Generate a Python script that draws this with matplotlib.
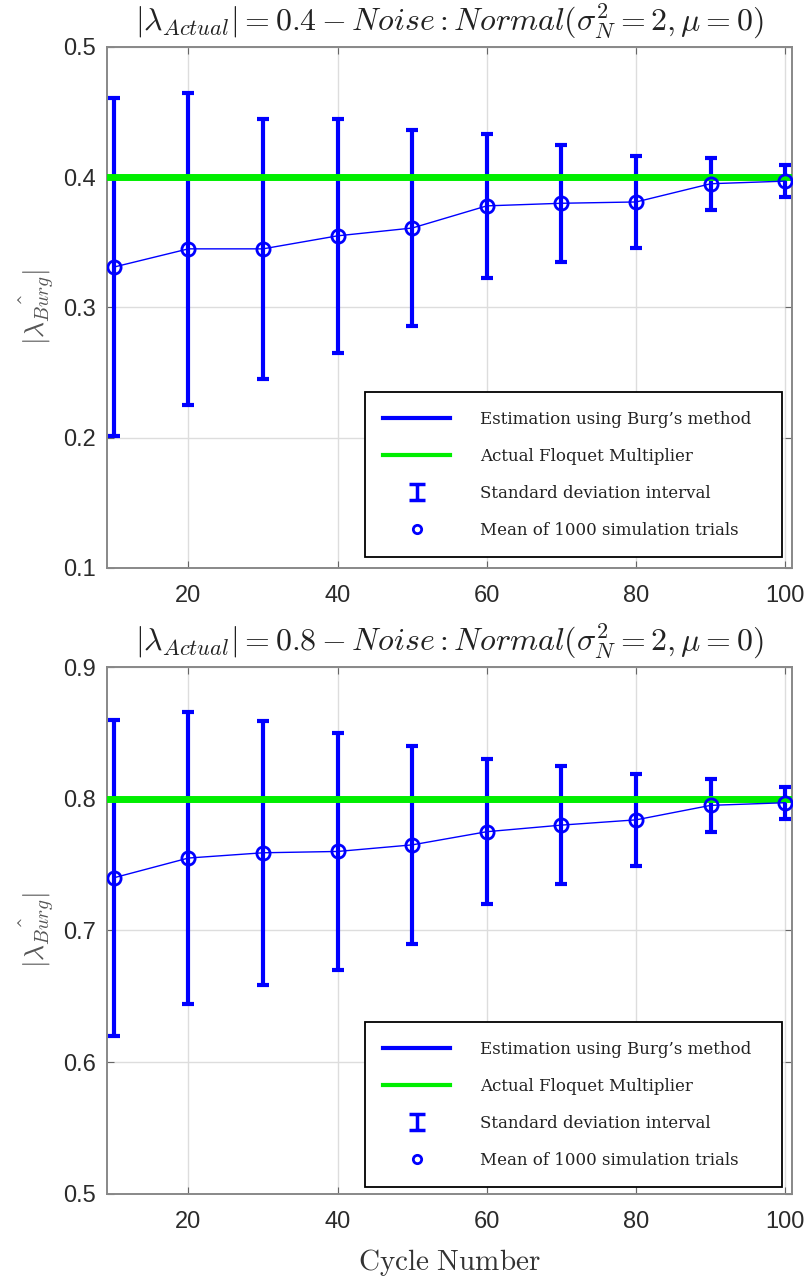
import numpy as np
import matplotlib
matplotlib.use('Agg')
import matplotlib.pyplot as plt
from matplotlib.lines import Line2D
from matplotlib.path import Path

plt.rcParams['mathtext.fontset'] = 'cm'
plt.rcParams['font.family'] = ['Liberation Sans', 'DejaVu Sans']

# cycle numbers and Burg estimates (mean of 1000 trials, standard deviation)
cycles = [10, 20, 30, 40, 50, 60, 70, 80, 90, 100]
mean_04 = [0.331, 0.345, 0.345, 0.355, 0.361, 0.378, 0.380, 0.381, 0.395, 0.397]
std_04 = [0.130, 0.120, 0.100, 0.090, 0.075, 0.055, 0.045, 0.035, 0.020, 0.012]
mean_08 = [0.740, 0.755, 0.759, 0.760, 0.765, 0.775, 0.780, 0.784, 0.795, 0.797]
std_08 = [0.120, 0.111, 0.100, 0.090, 0.075, 0.055, 0.045, 0.035, 0.020, 0.012]
actual = [0.4, 0.8]
yticks_top = [0.1, 0.2, 0.3, 0.4, 0.5]
yticks_bot = [0.5, 0.6, 0.7, 0.8, 0.9]
xticks = [20, 40, 60, 80, 100]

BLUE = '#0000ff'
GREEN = '#00ee00'
GRAY = '#2b2b2b'

fig = plt.figure(figsize=(8.1, 12.83), dpi=100)
ax1 = fig.add_axes([0.1317, 0.5573, 0.8461, 0.4061])
ax2 = fig.add_axes([0.1317, 0.0694, 0.8461, 0.4107])

# errorbar legend icon: vertical bar with two caps
ebar_marker = Path([(-1, 1), (1, 1), (0, 1), (0, -1), (-1, -1), (1, -1)],
                   [Path.MOVETO, Path.LINETO, Path.MOVETO, Path.LINETO,
                    Path.MOVETO, Path.LINETO])

legend_handles = [
    Line2D([], [], color=BLUE, lw=3),
    Line2D([], [], color=GREEN, lw=3),
    Line2D([], [], ls='none', marker=ebar_marker, markersize=11,
           markeredgecolor=BLUE, markeredgewidth=2.5),
    Line2D([], [], ls='none', marker='o', markersize=6, markerfacecolor='none',
           markeredgecolor=BLUE, markeredgewidth=2),
]
legend_labels = ["Estimation using Burg\u2019s method", "Actual Floquet Multiplier",
                 "Standard deviation interval", "Mean of 1000 simulation trials"]

panels = [
    (ax1, mean_04, std_04, actual[0], yticks_top, (0.377, 0.021, 0.608, 0.315)),
    (ax2, mean_08, std_08, actual[1], yticks_bot, (0.377, 0.013, 0.608, 0.316)),
]

for ax, mean, std, lam, yt, bbox in panels:
    ax.errorbar(cycles, mean, yerr=std, fmt='none', ecolor=BLUE, elinewidth=3,
                capsize=4, capthick=3, zorder=3)
    ax.axhline(lam, color=GREEN, lw=5, zorder=4)
    ax.plot(cycles, mean, color=BLUE, lw=1, marker='o', markersize=9.5,
            markerfacecolor='none', markeredgecolor=BLUE, markeredgewidth=2, zorder=5)

    ax.set_xlim(9.05, 100.9)
    ax.set_ylim(yt[0], yt[-1])
    ax.set_xticks(xticks)
    ax.set_yticks(yt)
    ax.set_yticklabels([f'{v:.1f}' for v in yt])
    ax.grid(True, color='#dddddd', lw=1)
    ax.set_axisbelow(True)
    ax.tick_params(direction='in', length=5, labelsize=17, labelcolor=GRAY,
                   color='#666666', top=True, right=True)
    ax.tick_params(axis='y', pad=8)
    ax.tick_params(axis='x', pad=12)
    for sp in ax.spines.values():
        sp.set_color('#888888')
        sp.set_linewidth(1.4)

    ax.set_title(r'$|\lambda_{Actual}| = %.1f - Noise : Normal(\sigma_N^2 = 2, \mu = 0)$' % lam,
                 fontsize=23, color='#222222', pad=12)
    ax.set_ylabel(r'$|\hat{\lambda_{Burg}}|$', fontsize=20, color='#555555', labelpad=4)

    leg = ax.legend(legend_handles, legend_labels, loc='lower left', bbox_to_anchor=bbox,
                    mode='expand', fancybox=False, framealpha=1, edgecolor='black',
                    prop={'family': 'DejaVu Serif', 'size': 12},
                    handlelength=4.0, handletextpad=1.8, labelspacing=1.2,
                    borderpad=1.1, borderaxespad=0)
    leg.get_frame().set_linewidth(1.3)
    for t in leg.get_texts():
        t.set_color('#222222')

ax2.set_xlabel(r'$\mathrm{Cycle\ Number}$', fontsize=21, color='#333333', labelpad=10)

fig.savefig('out.png', dpi=100)
